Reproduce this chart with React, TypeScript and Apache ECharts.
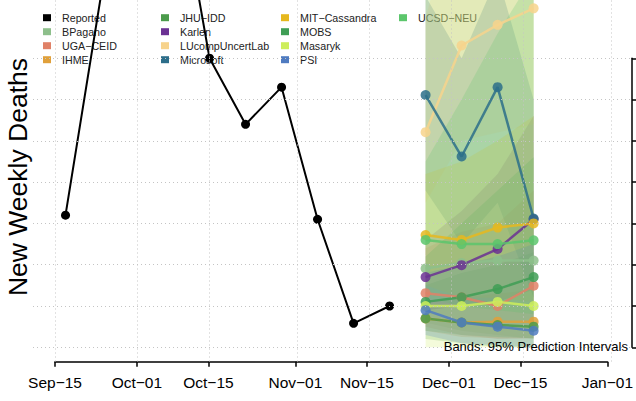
import React, { useEffect, useRef } from "react";
import * as echarts from "echarts";

// ---------- data ----------
const reportedDates = [
  "2021-09-17", "2021-09-24", "2021-10-01", "2021-10-08", "2021-10-15",
  "2021-10-22", "2021-10-29", "2021-11-05", "2021-11-12", "2021-11-19",
];
const reportedValues = [320, 860, 1080, 1193, 700, 540, 630, 310, 58, 100];

const forecastDates = ["2021-11-26", "2021-12-03", "2021-12-10", "2021-12-17"];

const modelNames = [
  "BPagano", "UGA−CEID", "IHME", "JHU−IDD", "Karlen", "LUcompUncertLab",
  "Microsoft", "MIT−Cassandra", "MOBS", "Masaryk", "PSI", "UCSD−NEU",
];
const modelColors = [
  "#8dbf8b", "#e08167", "#e0a03a", "#4b9b4b", "#6b3193", "#f7d38c",
  "#2c6e8a", "#e6b81e", "#3f9e55", "#cdee5c", "#4f7bc0", "#5cc66c",
];

// medians
const bpaganoMedian = [191, 204, 210, 210];
const ugaMedian = [131, 121, 100, 149];
const ihmeMedian = [70, 60, 62, 62];
const jhuMedian = [70, 60, 54, 50];
const karlenMedian = [170, 199, 238, 310];
const lucompMedian = [521, 731, 781, 821];
const microsoftMedian = [611, 462, 630, 312];
const mitMedian = [272, 260, 290, 300];
const mobsMedian = [110, 121, 141, 170];
const masarykMedian = [100, 100, 110, 100];
const psiMedian = [90, 60, 50, 40];
const ucsdMedian = [260, 250, 250, 259];

// 95% interval bounds
const bpaganoLower = [60, 40, 30, 20];
const bpaganoUpper = [900, 1000, 1100, 1200];
const ugaLower = [50, 30, 20, 22];
const ugaUpper = [240, 280, 300, 380];
const ihmeLower = [40, 25, 22, 22];
const ihmeUpper = [110, 120, 130, 140];
const jhuLower = [20, 10, 0, 0];
const jhuUpper = [150, 180, 200, 230];
const karlenLower = [90, 100, 110, 140];
const karlenUpper = [260, 330, 420, 560];
const lucompLower = [350, 500, 520, 540];
const lucompUpper = [800, 1100, 1250, 1400];
const microsoftLower = [380, 250, 350, 120];
const microsoftUpper = [850, 700, 900, 600];
const mitLower = [150, 120, 120, 110];
const mitUpper = [420, 450, 500, 560];
const mobsLower = [40, 30, 25, 22];
const mobsUpper = [220, 300, 380, 460];
const masarykLower = [0, 0, 0, 0];
const masarykUpper = [900, 1000, 1100, 1200];
const psiLower = [30, 10, 5, 0];
const psiUpper = [180, 200, 220, 250];
const ucsdLower = [120, 100, 90, 80];
const ucsdUpper = [450, 600, 760, 900];

const xTickDates = [
  "2021-09-15", "2021-10-01", "2021-10-15", "2021-11-01",
  "2021-11-15", "2021-12-01", "2021-12-15", "2022-01-01",
];
const xTickLabels = ["Sep−15", "Oct−01", "Oct−15", "Nov−01", "Nov−15", "Dec−01", "Dec−15", "Jan−01"];
const yGridValues = [0, 100, 200, 300, 400, 500, 600, 700];

// ---------- helpers ----------
const ts = (d: string) => {
  const [y, m, dd] = d.split("-").map(Number);
  return Date.UTC(y, m - 1, dd);
};

const medians = [
  bpaganoMedian, ugaMedian, ihmeMedian, jhuMedian, karlenMedian, lucompMedian,
  microsoftMedian, mitMedian, mobsMedian, masarykMedian, psiMedian, ucsdMedian,
];
const lowers = [
  bpaganoLower, ugaLower, ihmeLower, jhuLower, karlenLower, lucompLower,
  microsoftLower, mitLower, mobsLower, masarykLower, psiLower, ucsdLower,
];
const uppers = [
  bpaganoUpper, ugaUpper, ihmeUpper, jhuUpper, karlenUpper, lucompUpper,
  microsoftUpper, mitUpper, mobsUpper, masarykUpper, psiUpper, ucsdUpper,
];

const FONT = "'Liberation Sans', Arial, Helvetica, sans-serif";

export default function App() {
  const ref = useRef<HTMLDivElement>(null);

  useEffect(() => {
    if (!ref.current) return;
    const chart = echarts.init(ref.current, undefined, { renderer: "svg" });

    const fTs = forecastDates.map(ts);
    const tickTs = xTickDates.map(ts);
    const xStart = tickTs[0];
    const xEnd = tickTs[tickTs.length - 1];
    const pad = (xEnd - xStart) * 0.04;

    const colorOf = (name: string) =>
      name === "Reported" ? "#000000" : modelColors[modelNames.indexOf(name)];
    const legendItem = (name: string) => ({
      name,
      icon: "rect",
      itemStyle: { color: colorOf(name), opacity: 1, borderWidth: 0 },
    });
    const legendCols = [
      ["Reported", "BPagano", "UGA−CEID", "IHME"],
      ["JHU−IDD", "Karlen", "LUcompUncertLab", "Microsoft"],
      ["MIT−Cassandra", "MOBS", "Masaryk", "PSI"],
      ["UCSD−NEU"],
    ];
    const legendLefts = [43, 161, 281, 399];

    const bandSeries = {
      type: "custom",
      xAxisIndex: 0,
      yAxisIndex: 0,
      clip: true,
      silent: true,
      z: 1,
      data: modelNames.map((_, i) => [fTs[0], lowers[i][0]]),
      renderItem: (params: any, api: any) => {
        const i = params.dataIndex;
        const top = fTs.map((t, k) => api.coord([t, uppers[i][k]]));
        const bottom = fTs.map((t, k) => api.coord([t, lowers[i][k]])).reverse();
        return {
          type: "polygon",
          shape: { points: top.concat(bottom) },
          style: { fill: modelColors[i], opacity: 0.22 },
        };
      },
    };

    const gridLineSeries = {
      type: "line",
      xAxisIndex: 0,
      yAxisIndex: 0,
      data: [],
      silent: true,
      z: 1,
      markLine: {
        silent: true,
        symbol: ["none", "none"],
        label: { show: false },
        lineStyle: { color: "#c4c4c4", type: [1, 3], width: 1 },
        data: [
          ...tickTs.map((t) => ({ xAxis: t })),
          ...yGridValues.map((v) => ({ yAxis: v })),
        ],
      },
    };

    const reportedSeries = {
      name: "Reported",
      type: "line",
      xAxisIndex: 0,
      yAxisIndex: 0,
      clip: true,
      z: 3,
      data: reportedDates.map((d, i) => [ts(d), reportedValues[i]]),
      color: "#000000",
      lineStyle: { color: "#000000", width: 2 },
      itemStyle: { color: "#000000", borderWidth: 0 },
      symbol: "circle",
      symbolSize: 9,
      showAllSymbol: true,
    };

    const modelSeries = modelNames.map((name, i) => ({
      name,
      type: "line",
      xAxisIndex: 0,
      yAxisIndex: 0,
      clip: true,
      z: 3,
      data: fTs.map((t, k) => [t, medians[i][k]]),
      color: modelColors[i],
      lineStyle: { color: modelColors[i], width: 2.5, opacity: 0.85 },
      itemStyle: { color: modelColors[i], opacity: 0.85, borderWidth: 0 },
      symbol: "circle",
      symbolSize: 10,
      showAllSymbol: true,
    }));

    chart.setOption({
      animation: false,
      textStyle: { fontFamily: FONT },
      grid: [
        { left: 33, width: 600, top: 0, bottom: 39.5 },
        { left: 55, width: 556, top: 300, bottom: 39.3 },
        { left: 632, width: 1, top: 58.3, bottom: 53.7 },
      ],
      xAxis: [
        {
          gridIndex: 0,
          type: "value",
          min: xStart - pad,
          max: xEnd + pad,
          show: false,
        },
        {
          gridIndex: 1,
          type: "value",
          min: xStart,
          max: xEnd,
          axisLine: { show: true, lineStyle: { color: "#000", width: 1.5 } },
          axisTick: {
            show: true,
            customValues: tickTs,
            length: 5,
            lineStyle: { color: "#000", width: 1.5 },
          },
          axisLabel: {
            show: true,
            customValues: tickTs,
            margin: 13,
            fontSize: 15.5,
            color: "#000",
            fontFamily: FONT,
            formatter: (v: number) => xTickLabels[tickTs.indexOf(v)] ?? "",
          },
          splitLine: { show: false },
        },
        { gridIndex: 2, type: "value", show: false },
      ],
      yAxis: [
        { gridIndex: 0, type: "value", min: -34.4, max: 841.1, show: false },
        { gridIndex: 1, type: "value", show: false },
        {
          gridIndex: 2,
          type: "value",
          position: "right",
          min: 0,
          max: 700,
          interval: 100,
          axisLine: { show: true, lineStyle: { color: "#000", width: 1.5 } },
          axisTick: { show: true, inside: false, length: 5, lineStyle: { color: "#000", width: 1.5 } },
          axisLabel: { show: false },
          splitLine: { show: false },
        },
      ],
      legend: legendCols.map((col, ci) => ({
        orient: "vertical",
        left: legendLefts[ci],
        top: 10.7,
        padding: 0,
        itemGap: 0,
        itemWidth: 8,
        itemHeight: 7,
        z: 1,
        selectedMode: false,
        textStyle: {
          fontSize: 10.7,
          lineHeight: 14,
          color: "#222",
          fontFamily: FONT,
          padding: [0, 0, 0, 6],
        },
        data: col.map(legendItem),
      })),
      graphic: [
        {
          type: "text",
          x: 18,
          y: 177,
          rotation: Math.PI / 2,
          style: {
            text: "New Weekly Deaths",
            fontSize: 26.5,
            fontFamily: FONT,
            fill: "#000",
            align: "center",
            verticalAlign: "middle",
          },
        },
        {
          type: "text",
          x: 628,
          y: 346,
          z: 10,
          style: {
            text: "Bands: 95% Prediction Intervals",
            fontSize: 13,
            fontFamily: FONT,
            fill: "#000",
            align: "right",
            verticalAlign: "middle",
          },
        },
      ],
      series: [bandSeries, gridLineSeries, reportedSeries, ...modelSeries],
    });

    return () => chart.dispose();
  }, []);

  return (
    <div
      ref={ref}
      style={{ position: "fixed", left: 0, top: 0, width: 636, height: 401, background: "#fff" }}
    />
  );
}
